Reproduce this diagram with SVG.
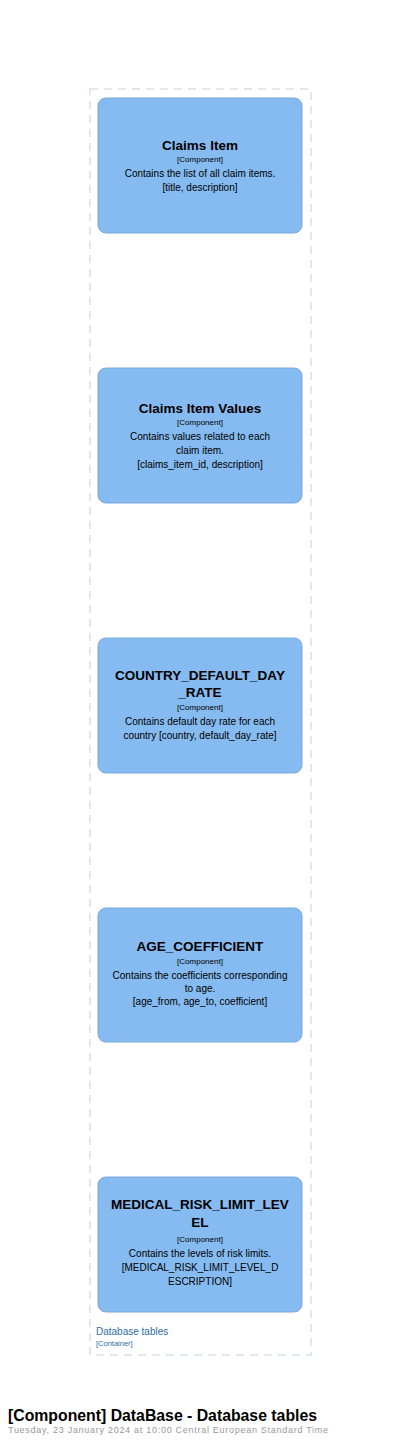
<svg xmlns="http://www.w3.org/2000/svg" width="400" height="1443" viewBox="0 0 400 1443">
<style>
.node rect{fill:#85bbf0;stroke:#78a8d8;stroke-width:1}
text{font-family:"Liberation Sans",Arial,sans-serif;text-anchor:middle;fill:#000}
.name{font-size:13.5px;font-weight:bold}
.meta{font-size:8px}
.desc{font-size:10px}
.bl{font-size:10px;fill:#2e6da4;text-anchor:start}
.blm{font-size:7.5px;fill:#2e6da4;text-anchor:start}
</style>
<rect width="400" height="1443" fill="#fff"/>
<g id="boundary">
<rect x="90" y="89" width="221" height="1266" fill="none" stroke="#e3e7ee" stroke-width="2" stroke-dasharray="8,6"/>
<text class="bl" x="96" y="1335">Database tables</text>
<text class="blm" x="96" y="1346">[Container]</text>
</g>
<g id="connectors"></g>
<g id="node1" class="node">
<rect x="98" y="98" width="204" height="135" rx="8"/>
<text class="name" x="200" y="150">Claims Item</text>
<text class="meta" x="200" y="162">[Component]</text>
<text class="desc" x="200" y="177">Contains the list of all claim items.</text>
<text class="desc" x="200" y="191">[title, description]</text>
</g>
<g id="node2" class="node">
<rect x="98" y="368" width="204" height="135" rx="8"/>
<text class="name" x="200" y="413">Claims Item Values</text>
<text class="meta" x="200" y="425">[Component]</text>
<text class="desc" x="200" y="440">Contains values related to each</text>
<text class="desc" x="200" y="454">claim item.</text>
<text class="desc" x="200" y="468">[claims_item_id, description]</text>
</g>
<g id="node3" class="node">
<rect x="98" y="638" width="204" height="135" rx="8"/>
<text class="name" x="200" y="680">COUNTRY_DEFAULT_DAY</text>
<text class="name" x="200" y="697">_RATE</text>
<text class="meta" x="200" y="710">[Component]</text>
<text class="desc" x="200" y="725">Contains default day rate for each</text>
<text class="desc" x="200" y="739">country [country, default_day_rate]</text>
</g>
<g id="node4" class="node">
<rect x="98" y="908" width="204" height="134" rx="8"/>
<text class="name" x="200" y="951">AGE_COEFFICIENT</text>
<text class="meta" x="200" y="964">[Component]</text>
<text class="desc" x="200" y="979">Contains the coefficients corresponding</text>
<text class="desc" x="200" y="992">to age.</text>
<text class="desc" x="200" y="1005">[age_from, age_to, coefficient]</text>
</g>
<g id="node5" class="node">
<rect x="98" y="1177" width="204" height="135" rx="8"/>
<text class="name" x="200" y="1209">MEDICAL_RISK_LIMIT_LEV</text>
<text class="name" x="200" y="1227">EL</text>
<text class="meta" x="200" y="1242">[Component]</text>
<text class="desc" x="200" y="1257">Contains the levels of risk limits.</text>
<text class="desc" x="200" y="1271">[MEDICAL_RISK_LIMIT_LEVEL_D</text>
<text class="desc" x="200" y="1285">ESCRIPTION]</text>
</g>
<g id="title">
<text x="8" y="1421" style="font-size:15.8px;font-weight:bold;text-anchor:start">[Component] DataBase - Database tables</text>
<text x="8" y="1433" textLength="320" style="font-size:9px;fill:#999;text-anchor:start">Tuesday, 23 January 2024 at 10:00 Central European Standard Time</text>
</g>
</svg>
